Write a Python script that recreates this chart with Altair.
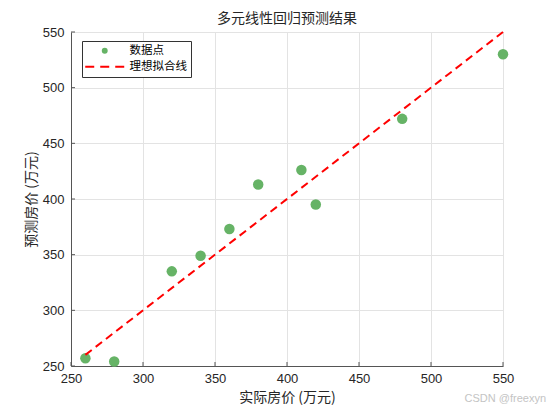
import altair as alt
import pandas as pd

# ---- data ----
actual = [260, 280, 320, 340, 360, 380, 410, 420, 480, 550]
predicted = [257, 254, 335, 349, 373, 413, 426, 395, 472, 530]
series = ["数据点", "理想拟合线"]
ticks = [250, 300, 350, 400, 450, 500, 550]
fit_x = [min(actual), max(actual)]
fit_y = [min(actual), max(actual)]
watermark = ["CSDN @freexyn"]

GREEN = "#66b366"
RED = "#ff0000"
AX = "#555555"
GRID = "#e3e3e3"
TXT = "#262626"
CJK = "Noto Sans CJK SC"
NUM = "Liberation Sans"

W, H = 432, 334

pts = pd.DataFrame({"actual": actual, "predicted": predicted, "series": [series[0]] * len(actual)})
fit = pd.DataFrame({"actual": fit_x, "predicted": fit_y})
tk = pd.DataFrame({"actual": ticks, "predicted": ticks})
wm = pd.DataFrame({"w": watermark})

xs = alt.Scale(domain=[250, 550], nice=False, zero=False)
ys = alt.Scale(domain=[250, 550], nice=False, zero=False)

xaxis = alt.Axis(values=ticks, format="d", title="实际房价 (万元)", titleFont=CJK, titleFontSize=14,
                 titleFontWeight="normal", titleColor=TXT, titlePadding=5,
                 labelFont=NUM, labelFontSize=13, labelColor=TXT, labelPadding=6,
                 labelFlush=False, tickSize=0, domainColor=AX, domainWidth=1,
                 grid=True, gridColor=GRID)
yaxis = alt.Axis(values=ticks, format="d", title="预测房价 (万元)", titleFont=CJK, titleFontSize=14,
                 titleFontWeight="normal", titleColor=TXT, titlePadding=4,
                 labelFont=NUM, labelFontSize=13, labelColor=TXT, labelPadding=7,
                 labelFlush=False, tickSize=0, domainColor=AX, domainWidth=1,
                 grid=True, gridColor=GRID)

legend = alt.Legend(
    title=None, orient="none", legendX=11, legendY=9, padding=4,
    strokeColor="#333333", fillColor="white", cornerRadius=0,
    symbolSize=35, symbolStrokeWidth=2, symbolOffset=13, labelOffset=19,
    labelFont=CJK, labelFontSize=11.5, labelColor="#000000", rowPadding=2,
)

points = alt.Chart(pts).mark_point(filled=True, size=110, opacity=1).encode(
    x=alt.X("actual:Q", scale=xs, axis=xaxis),
    y=alt.Y("predicted:Q", scale=ys, axis=yaxis),
    shape=alt.Shape("series:N", scale=alt.Scale(domain=series, range=["circle", "M-6.6,0L6.6,0"]),
                    legend=legend),
    fill=alt.Fill("series:N", scale=alt.Scale(domain=series, range=[GREEN, "transparent"]),
                  legend=legend),
    stroke=alt.Stroke("series:N", scale=alt.Scale(domain=series, range=["transparent", RED]),
                      legend=legend),
    strokeDash=alt.StrokeDash("series:N", scale=alt.Scale(domain=series, range=[[1, 0], [9, 6]]),
                              legend=legend),
)

line = alt.Chart(fit).mark_line(color=RED, strokeWidth=2, strokeDash=[8, 5]).encode(
    x=alt.X("actual:Q", scale=xs, axis=xaxis),
    y=alt.Y("predicted:Q", scale=ys, axis=yaxis),
)

xticks = alt.Chart(tk).mark_rule(color=AX, strokeWidth=1).encode(
    x=alt.X("actual:Q", scale=xs, axis=xaxis),
    y=alt.value(H), y2=alt.value(H - 4),
)
yticks = alt.Chart(tk).mark_rule(color=AX, strokeWidth=1).encode(
    y=alt.Y("predicted:Q", scale=ys, axis=yaxis),
    x=alt.value(0), x2=alt.value(4),
)

wmark = alt.Chart(wm).mark_text(align="right", baseline="middle", fontSize=11, font=NUM,
                                color="#c4c4c4").encode(
    text="w:N", x=alt.value(W + 43), y=alt.value(H + 33),
)

chart = alt.layer(points, line, xticks, yticks, wmark).properties(
    width=W, height=H,
    title=alt.TitleParams(text="多元线性回归预测结果", font=CJK, fontSize=14, fontWeight="normal",
                          color=TXT, offset=0, anchor="middle"),
    autosize=alt.AutoSizeParams(type="none"),
    padding={"left": 63, "top": 24, "right": 45, "bottom": 40},
).configure_view(stroke=None).configure(background="white")

chart.save("out.html", embed_options={"renderer": "svg", "actions": False})
